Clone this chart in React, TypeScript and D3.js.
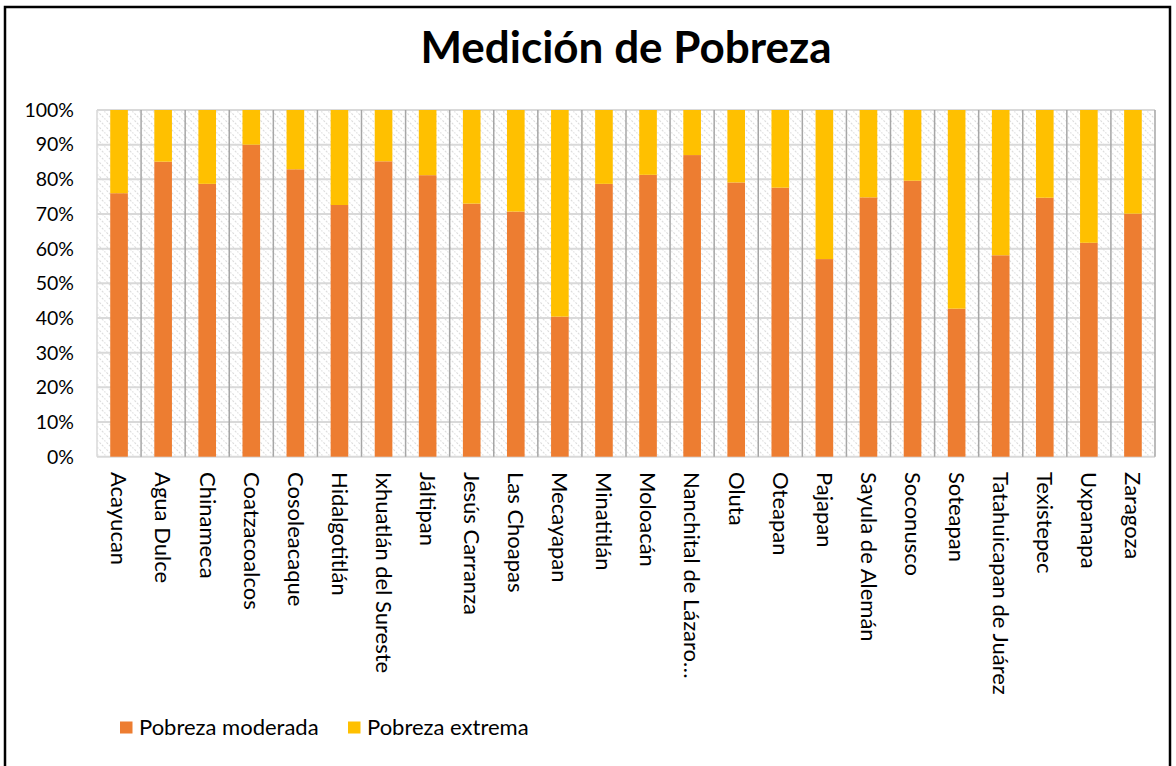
import React from 'react';
import * as d3 from 'd3';

// municipios (eje X)
const municipios = [
	'Acayucan', 'Agua Dulce', 'Chinameca', 'Coatzacoalcos', 'Cosoleacaque', 'Hidalgotitlán',
	'Ixhuatlán del Sureste', 'Jáltipan', 'Jesús Carranza', 'Las Choapas', 'Mecayapan', 'Minatitlán',
	'Moloacán', 'Nanchital de Lázaro…', 'Oluta', 'Oteapan', 'Pajapan', 'Sayula de Alemán',
	'Soconusco', 'Soteapan', 'Tatahuicapan de Juárez', 'Texistepec', 'Uxpanapa', 'Zaragoza'
];

// porcentajes
const pobrezaModerada = [76, 85.1, 78.7, 90, 82.9, 72.6, 85.2, 81.2, 73, 70.7, 40.4, 78.7, 81.3, 87, 79.1, 77.6, 57, 74.8, 79.6, 42.7, 58.1, 74.7, 61.7, 70.1];
const pobrezaExtrema = [24, 14.9, 21.3, 10, 17.1, 27.4, 14.8, 18.8, 27, 29.3, 59.6, 21.3, 18.7, 13, 20.9, 22.4, 43, 25.2, 20.4, 57.3, 41.9, 25.3, 38.3, 29.9];

const seriesNames = ['Pobreza moderada', 'Pobreza extrema'];
const seriesColors = ['#ED7D31', '#FFC000'];
const yTicks = [0, 0.1, 0.2, 0.3, 0.4, 0.5, 0.6, 0.7, 0.8, 0.9, 1];

const font = 'Lato, "Open Sans", sans-serif';

const App: React.FC = () => {
	const width = 1176;
	const height = 766;
	const plot = { left: 97, right: 1155, top: 110, bottom: 456.7 };

	const x = d3.scaleBand<string>()
		.domain(municipios)
		.range([plot.left, plot.right])
		.paddingInner(0.6)
		.paddingOuter(0.3);

	const xCell = d3.scaleBand<string>()
		.domain(municipios)
		.range([plot.left, plot.right]);

	const y = d3.scaleLinear().domain([0, 1]).range([plot.bottom, plot.top]);

	// 100% apilado
	const rows = municipios.map((m, i) => {
		const total = pobrezaModerada[i] + pobrezaExtrema[i];
		return { m, mod: pobrezaModerada[i] / total, ext: pobrezaExtrema[i] / total };
	});
	const stacked = d3.stack<any>().keys(['mod', 'ext'])(rows);

	const fmt = d3.format('.0%');

	return (
		<svg width={width} height={height} style={{ position: 'absolute', left: 0, top: 0, background: '#fff' }}>
			<defs>
				<pattern id="hatch" width="7" height="7" patternUnits="userSpaceOnUse">
					<rect width="7" height="7" fill="#fff" />
					<path d="M-1,-1 L8,8 M-1,6 L1,8 M6,-1 L8,1" stroke="#dcdcdc" strokeWidth="1.1" strokeDasharray="2,1.5" />
				</pattern>
			</defs>

			<rect x={5} y={7} width={1165} height={790} fill="#fff" stroke="#000" strokeWidth={2.5} />

			<text x={626} y={63} textAnchor="middle" fontFamily={font} fontWeight="bold" fontSize={44} fill="#000">
				Medición de Pobreza
			</text>

			{/* área de trazado */}
			<rect x={plot.left} y={plot.top} width={plot.right - plot.left} height={plot.bottom - plot.top} fill="url(#hatch)" />

			{yTicks.map(t => (
				<line key={'h' + t} x1={plot.left} x2={plot.right} y1={y(t)} y2={y(t)} stroke="#d9d9d9" strokeWidth={2} />
			))}
			{municipios.map((m, i) => i === 0 ? null : (
				<line key={'v' + m} x1={xCell(m)!} x2={xCell(m)!} y1={plot.top} y2={plot.bottom} stroke="#a6a6a6" strokeWidth={1.5} />
			))}
			<line x1={plot.right} x2={plot.right} y1={plot.top} y2={plot.bottom} stroke="#a6a6a6" strokeWidth={1.5} />
			<line x1={plot.left} x2={plot.left} y1={plot.top} y2={plot.bottom} stroke="#d9d9d9" strokeWidth={1.5} />

			{stacked.map((s, si) => (
				<g key={s.key} fill={seriesColors[si]}>
					{s.map(d => (
						<rect key={d.data.m} x={x(d.data.m)!} width={x.bandwidth()} y={y(d[1])} height={y(d[0]) - y(d[1])} />
					))}
				</g>
			))}

			{yTicks.map(t => (
				<text key={'yl' + t} x={74} y={y(t)} dy="0.35em" textAnchor="end" fontFamily={font} fontSize={19.5} fill="#000">
					{fmt(t)}
				</text>
			))}

			{municipios.map(m => {
				const cx = xCell(m)! + xCell.bandwidth() / 2;
				return (
					<text key={'xl' + m} transform={`translate(${cx},472) rotate(90)`} dy="0.35em" textAnchor="start"
						fontFamily={font} fontSize={22} fill="#000">
						{m}
					</text>
				);
			})}

			{seriesNames.map((n, i) => {
				const lx = [120, 348][i];
				return (
					<g key={n}>
						<rect x={lx} y={721.5} width={12.5} height={12} fill={seriesColors[i]} />
						<text x={lx + 19} y={734.5} fontFamily={font} fontSize={22} fill="#000">{n}</text>
					</g>
				);
			})}
		</svg>
	);
};

export default App;
